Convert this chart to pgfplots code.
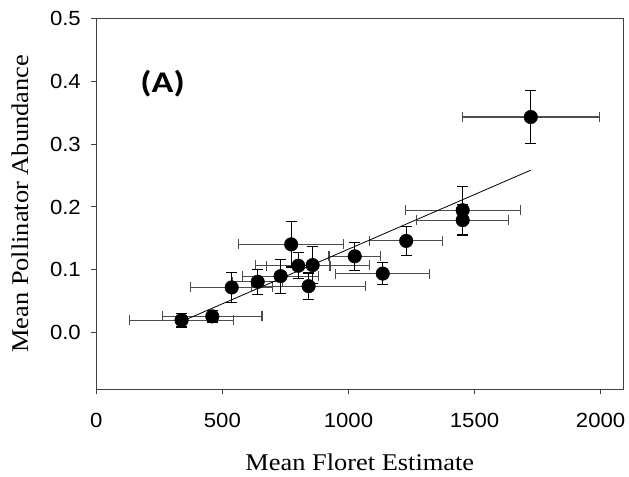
\documentclass[border=0pt]{standalone}
\usepackage{fontspec}
\setmainfont{Liberation Serif}[FakeStretch=1.1]
\newfontfamily\ticksf{Liberation Sans}[FakeStretch=1.08]
\newfontfamily\labelA{Carlito}[FakeStretch=1.2]
\usepackage{pgfplots}
\usepackage{pgfplotstable}
\pgfplotsset{compat=1.18}
\pgfplotstableread{
x y ex ey
338 0.020 205 0.011
460 0.026 197 0.009
537 0.072 163 0.024
640 0.081 100 0.020
731 0.090 150 0.027
773 0.1405 208 0.036
801 0.1065 126 0.021
858 0.1075 225 0.029
842 0.074 225 0.021
1025 0.1215 102 0.022
1136 0.094 187 0.018
1229 0.146 145 0.023
1453 0.1947 228 0.038
1453 0.179 183 0.025
1723 0.343 272 0.042
}\data
\begin{document}
\begin{tikzpicture}
\useasboundingbox (-96.3bp,-87.7bp) rectangle (532.7bp,389.3bp);
\begin{axis}[
  scale only axis, width=527bp, height=371bp,
  xmin=0, xmax=2090, ymin=-0.09, ymax=0.5,
  axis line style={black!75, line width=1bp},
  tick style={black!75, line width=1bp},
  tick align=outside, major tick length=5bp,
  xtick={0,500,1000,1500,2000}, ytick={0,0.1,0.2,0.3,0.4,0.5},
  xtick pos=bottom, ytick pos=left,
  /pgf/number format/assume math mode=true,
  yticklabel style={/pgf/number format/fixed, /pgf/number format/fixed zerofill, /pgf/number format/precision=1, xshift=-7bp},
  xticklabel style={/pgf/number format/1000 sep={}, yshift=-15bp},
  ticklabel style={font=\ticksf\fontsize{20.5bp}{22bp}\selectfont},
  xlabel={Mean Floret Estimate},
  ylabel={Mean Pollinator Abundance},
  label style={font=\fontsize{24bp}{26bp}\selectfont},
  xlabel style={at={(axis description cs:0.5,-0.196)}, anchor=center},
  ylabel style={at={(axis description cs:-0.145,0.5)}, anchor=center},
  clip=false,
]
\addplot[draw=none, mark=none, black!70, line width=1.1bp,
  error bars/.cd, x dir=both, x explicit,
  error bar style={black!70, line width=1.1bp},
  error mark options={black!70, line width=1.1bp, mark size=5bp, rotate=90}]
  table[x=x, y=y, x error=ex] {\data};
\addplot[draw=none, mark=none, black, line width=1.1bp,
  error bars/.cd, y dir=both, y explicit,
  error bar style={black, line width=1.1bp},
  error mark options={black, line width=1.1bp, mark size=5.5bp, rotate=90}]
  table[x=x, y=y, y error=ey] {\data};
\addplot[black, line width=0.8bp, mark=none] coordinates {(338,0.0178) (1723,0.2585)};
\addplot[only marks, mark=*, mark size=6.8bp, black, mark options={fill=black}]
  table[x=x, y=y] {\data};
\node[font=\labelA\bfseries\fontsize{30bp}{32bp}\selectfont] at (axis cs:263,0.396) {(A)};
\end{axis}
\end{tikzpicture}
\end{document}
